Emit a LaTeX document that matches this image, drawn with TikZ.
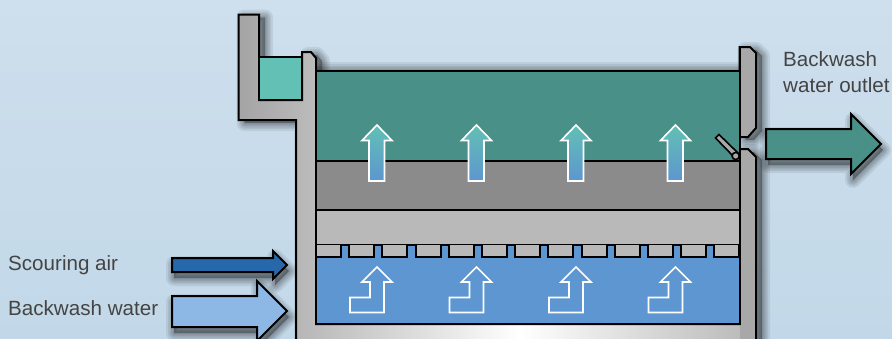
\documentclass[tikz,border=0pt]{standalone}
\usepackage{fontspec}
\setmainfont{Liberation Sans}
\definecolor{bgtop}{RGB}{206,223,237}
\definecolor{bgbot}{RGB}{194,216,232}
\definecolor{wallA}{RGB}{164,164,164}
\definecolor{wallB}{RGB}{188,188,188}
\definecolor{wallR}{RGB}{168,168,168}
\definecolor{waterdark}{RGB}{73,144,136}
\definecolor{waterlight}{RGB}{98,192,180}
\definecolor{gravel}{RGB}{139,139,139}
\definecolor{sand}{RGB}{185,185,185}
\definecolor{plenum}{RGB}{93,150,208}
\definecolor{airblue}{RGB}{38,104,170}
\definecolor{washblue}{RGB}{141,184,229}
\definecolor{labeltext}{RGB}{68,68,68}
\tikzset{
  edge/.style={draw=black,line width=2pt,line join=miter},
  flow/.style={draw=white,line width=1.6pt,line join=miter},
  label/.style={font=\fontsize{20.6}{26}\selectfont,text=labeltext,inner sep=0pt,align=left},
}
\newcommand\softshadow[2]{\foreach \w in {16,12,9,6,3}{\draw[draw=black,fill=black,draw opacity=.07,fill opacity=.07,line width=\w pt,line join=round,shift={(#1)}] #2;}}
\newcommand\wallpath{(238.5,14.5)--(259,14.5)--(259,100)--(302,100)--(302,52)--(311,52)--(316,58)--(316,324)--(739.5,324)--(739.5,149)--(748,149)--(756,157)--(756,345)--(296,345)--(296,120)--(238.5,120)--cycle}
\newcommand\lippath{(739.5,47)--(750,47)--(756,53)--(756,128)--(748,137)--(739.5,137)--cycle}
\newcommand\airpath{(172,258)--(273,258)--(273,251)--(287,265)--(273,279)--(273,272)--(172,272)--cycle}
\newcommand\washpath{(172,296)--(257,296)--(257,281)--(287,311)--(257,341)--(257,327)--(172,327)--cycle}
\newcommand\outpath{(766,129)--(851,129)--(851,114)--(881,144)--(851,174)--(851,159)--(766,159)--cycle}
\begin{document}
\begin{tikzpicture}[x=1pt,y=-1pt]
\useasboundingbox (0,0) rectangle (892,338);
\clip (0,0) rectangle (892,338);
\shade[top color=bgtop,bottom color=bgbot] (0,0) rectangle (892,338);
% shadows
\softshadow{6,3}{\wallpath}
\softshadow{6,3}{\lippath}
\softshadow{0,-1}{(316,71) rectangle (739.5,100)}
\softshadow{2,6}{\airpath}
\softshadow{2,6}{\washpath}
\softshadow{2,6}{\outpath}
% wall
\begin{scope}
\clip \wallpath;
\shade[left color=wallA,right color=wallB] (238,0) rectangle (316,345);
\shade[left color=wallB,right color=white] (316,0) rectangle (520,345);
\shade[left color=white,right color=wallB] (520,0) rectangle (740,345);
\fill[wallR] (739.5,0) rectangle (760,345);
\end{scope}
\draw[edge] \wallpath;
\fill[wallR] \lippath;
\draw[edge] \lippath;
% trough
\filldraw[edge,fill=waterlight] (259,57) rectangle (302,100);
% media
\fill[waterdark] (316,71) rectangle (739.5,161);
\fill[gravel] (316,161) rectangle (739.5,210);
\fill[sand] (316,210) rectangle (739.5,245);
\fill[plenum] (316,245) rectangle (739.5,324);
\draw[edge] (316,71)--(739.5,71);
\draw[edge] (316,161)--(739.5,161);
\draw[edge] (316,210)--(739.5,210);
\draw[edge] (316,245)--(739.5,245);
\foreach \i in {0,...,12}{
  \filldraw[edge,fill=sand] ({316+33.2*\i},245)--({316+33.2*\i},257)--({341+33.2*\i},257)--({341+33.2*\i},245);
}
\draw[edge] (316,58)--(316,324)--(739.5,324)--(739.5,47);
% up arrows
\foreach \c in {0,99.5,199,298.5}{
  \begin{scope}[xshift=\c pt]
  \shade[top color=waterlight,bottom color=plenum,middle color=waterlight!50!plenum] (377,125)--(392,140.5)--(384.5,140.5)--(384.5,181)--(369,181)--(369,140.5)--(362,140.5)--cycle;
  \draw[flow] (377,125)--(392,140.5)--(384.5,140.5)--(384.5,181)--(369,181)--(369,140.5)--(362,140.5)--cycle;
  \draw[flow] (377,267)--(392,282)--(384,282)--(384,312.5)--(350,312.5)--(350,297.5)--(370,297.5)--(370,282)--(362,282)--cycle;
  \end{scope}
}
% flap valve
\filldraw[draw=black,line width=1.6pt,fill=wallR] (715.5,138)--(719,134.5)--(738,153)--(734,157)--cycle;
\filldraw[draw=black,line width=1.6pt,fill=wallR] (735.7,156) circle (3.6);
% flow arrows
\filldraw[edge,fill=airblue] \airpath;
\filldraw[edge,fill=washblue] \washpath;
\filldraw[edge,fill=waterdark] \outpath;
% labels
\node[label,anchor=base west] (scour) at (8,270) {Scouring air};
\node[label,anchor=base west] (wash) at (8,315) {Backwash water};
\node[label,anchor=base west] (out1) at (783,66) {Backwash};
\node[label,anchor=base west] (out2) at (783,92) {water outlet};
\end{tikzpicture}
\end{document}
